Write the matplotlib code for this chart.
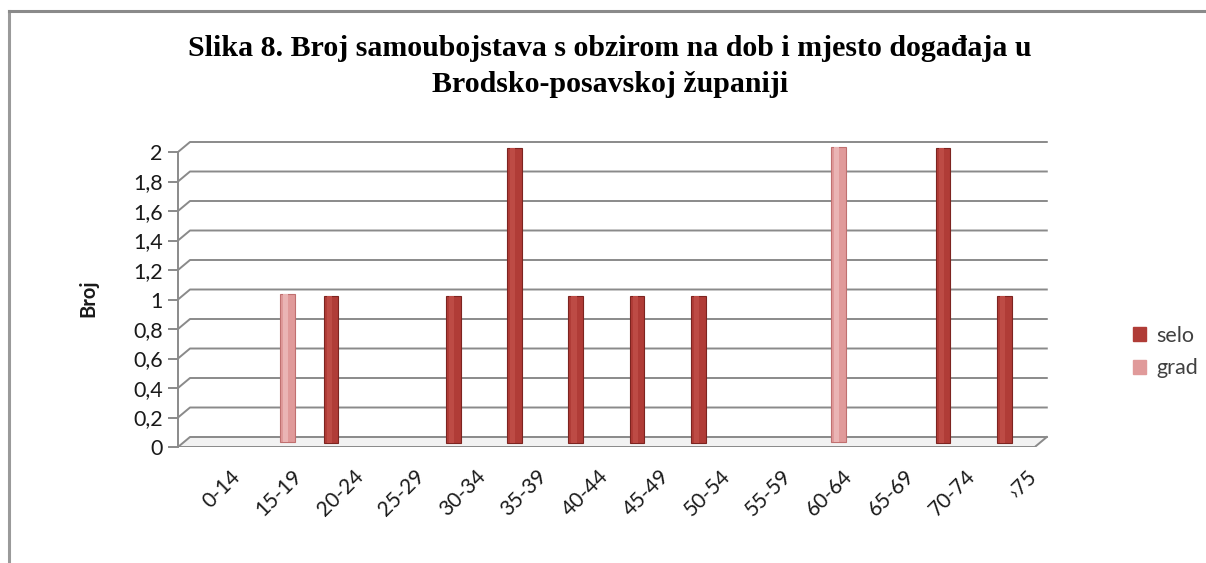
import matplotlib
matplotlib.use("Agg")
import matplotlib.pyplot as plt
from matplotlib.lines import Line2D

categories = ["0-14", "15-19", "20-24", "25-29", "30-34", "35-39", "40-44",
              "45-49", "50-54", "55-59", "60-64", "65-69", "70-74", "\u203a75"]
selo = [0, 0, 1, 0, 1, 2, 1, 1, 1, 0, 0, 0, 2, 1]
grad = [0, 1, 0, 0, 0, 0, 0, 0, 0, 0, 2, 0, 0, 0]
yticks = [0, 0.2, 0.4, 0.6, 0.8, 1, 1.2, 1.4, 1.6, 1.8, 2]

SELO_COLOR = "#b03c37"
SELO_EDGE = "#7d2420"
GRAD_COLOR = "#e09a9a"
GRAD_EDGE = "#c07070"
GRID = "#8a8a8a"

plt.rcParams["font.family"] = ["Lato", "DejaVu Sans"]

W, H = 1206, 563
fig = plt.figure(figsize=(W / 100, H / 100), dpi=100)

# plot area in pixels (front axis at x=178, y=0 at 447, y=2 at 152)
x0_px, y0_px = 178, 447
cat_px = 61.2
unit_px = 147.5
xmax = 14.3
ymax = 2.08
ax = fig.add_axes([x0_px / W, (H - y0_px) / H, xmax * cat_px / W, ymax * unit_px / H])
ax.set_xlim(0, xmax)
ax.set_ylim(0, ymax)

# pseudo-3D depth offsets
dx = 12 / cat_px
dy = 10 / unit_px
n = len(categories)

# back wall gridlines with diagonal connectors
for v in yticks:
    ax.plot([0, dx, n + dx], [v, v + dy, v + dy], color=GRID, lw=1.4, zorder=1)
# floor front edge and right side
ax.plot([0, n, n + dx], [0, 0, dy], color=GRID, lw=1.4, zorder=1)
ax.fill([0, n, n + dx, dx], [0, 0, dy, dy], color="#f2f2f2", zorder=0)

xs = [i + 0.5 for i in range(n)]
xg = [i + 0.5 + 0.29 for i in range(n)]
bw = 0.24
ax.bar([x for x, v in zip(xg, grad) if v], [v for v in grad if v], width=bw,
       bottom=dy * 0.55, color=GRAD_COLOR, edgecolor=GRAD_EDGE, lw=0.8, zorder=3)
ax.bar([x for x, v in zip(xs, selo) if v], [v for v in selo if v], width=bw,
       bottom=dy * 0.4, color=SELO_COLOR, edgecolor=SELO_EDGE, lw=0.8, zorder=4)
# highlight stripes for a cylinder look
ax.bar([x - 0.03 for x, v in zip(xg, grad) if v], [v for v in grad if v], width=bw * 0.35,
       bottom=dy * 0.55, color="#eab4b4", lw=0, zorder=3.5)
ax.bar([x - 0.03 for x, v in zip(xs, selo) if v], [v for v in selo if v], width=bw * 0.35,
       bottom=dy * 0.4, color="#bd4b45", lw=0, zorder=4.5)

for s in ["top", "right", "bottom"]:
    ax.spines[s].set_visible(False)
ax.spines["left"].set_bounds(0, 2)
ax.spines["left"].set_color(GRID)
ax.spines["left"].set_linewidth(1.4)
ax.set_yticks(yticks)
ax.set_yticklabels([("%g" % v).replace(".", ",") for v in yticks], fontsize=15.5, color="#1a1a1a")
ax.tick_params(axis="y", length=7, color=GRID, width=1.4, pad=4)
ax.set_xticks([])

for x, lab in zip(xs, categories):
    ax.text(x + 0.36, -0.13, lab, rotation=45, rotation_mode="anchor",
            ha="right", va="top", fontsize=15, color="#1a1a1a")

fig.text(88 / W, 1 - 298 / H, "Broj", rotation=90, fontsize=14.5, fontweight="bold",
         ha="center", va="center", color="#1a1a1a")

fig.text(0.506, 1 - 48 / H, "Slika 8. Broj samoubojstava s obzirom na dob i mjesto događaja u",
         family="Liberation Serif", fontweight="bold", fontsize=21.5, ha="center", va="center")
fig.text(0.506, 1 - 84 / H, "Brodsko-posavskoj županiji",
         family="Liberation Serif", fontweight="bold", fontsize=21.5, ha="center", va="center")

handles = [plt.Rectangle((0, 0), 1, 1, color=SELO_COLOR),
           plt.Rectangle((0, 0), 1, 1, color=GRAD_COLOR)]
fig.legend(handles, ["selo", "grad"], loc="center left", bbox_to_anchor=(1114 / W, 1 - 352 / H),
           frameon=False, fontsize=15.5, handlelength=0.6, handleheight=0.6,
           handletextpad=0.45, labelspacing=0.6, labelcolor="#404040")

# outer chart frame (top and left edges)
fig.add_artist(Line2D([9 / W, 9 / W], [0, 1 - 11 / H], color="#9a9a9a", lw=2.2, transform=fig.transFigure))
fig.add_artist(Line2D([9 / W, 1], [1 - 11 / H, 1 - 11 / H], color="#8a8a8a", lw=2.2, transform=fig.transFigure))

fig.savefig("out.png", dpi=100)
